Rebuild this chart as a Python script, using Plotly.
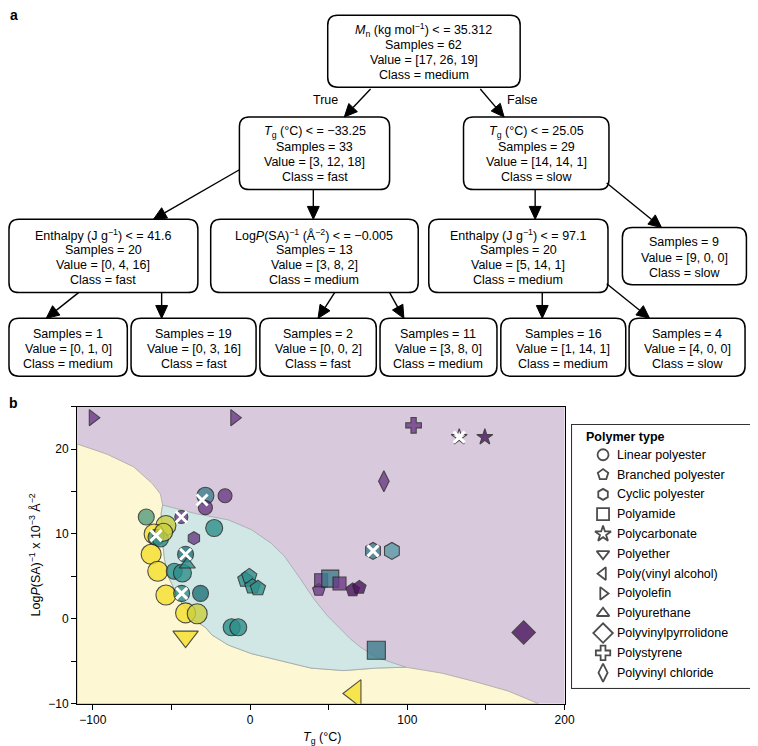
import math
import plotly.graph_objects as go

W, H = 758, 746
FONT = "Liberation Sans, Arial, Helvetica, sans-serif"

# ---------------- Tree data ----------------
node_rule = [
    "<i>M</i><sub>n</sub> (kg mol<sup>−1</sup>) < = 35.312",
    "<i>T</i><sub>g</sub> (°C) < = −33.25",
    "<i>T</i><sub>g</sub> (°C) < = 25.05",
    "Enthalpy (J g<sup>−1</sup>) < = 41.6",
    "Log<i>P</i>(SA)<sup>−1</sup> (Å<sup>−2</sup>) < = −0.005",
    "Enthalpy (J g<sup>−1</sup>) < = 97.1",
    None, None, None, None, None, None, None,
]
node_samples = [62, 33, 29, 20, 13, 20, 9, 1, 19, 2, 11, 16, 4]
node_values = [[17, 26, 19], [3, 12, 18], [14, 14, 1], [0, 4, 16], [3, 8, 2],
               [5, 14, 1], [9, 0, 0], [0, 1, 0], [0, 3, 16], [0, 0, 2],
               [3, 8, 0], [1, 14, 1], [4, 0, 0]]
node_class = ["medium", "fast", "slow", "fast", "medium", "medium", "slow",
              "medium", "fast", "fast", "medium", "medium", "slow"]

# ---------------- Scatter data ----------------
polymer_types = ["Linear polyester", "Branched polyester", "Cyclic polyester",
                 "Polyamide", "Polycarbonate", "Polyether", "Poly(vinyl alcohol)",
                 "Polyolefin", "Polyurethane", "Polyvinylpyrrolidone",
                 "Polystyrene", "Polyvinyl chloride"]

lin_tg = [-66, -53.5, -61, -59.8, -57, -55, -62.9, -58.7, -53.5, -48.2, -43, -41,
          -43.5, -31.5, -41, -33.6, -11.7, -7.5, -22.8, -28.4, -28.4, -15.9, -43.7]
lin_sa = [12.0, 11.0, 10.0, 9.6, 9.4, 10.2, 7.6, 5.6, 2.8, 5.6, 5.4, 7.6,
          3.0, 3.0, 0.7, 0.6, -1.0, -1.0, 10.7, 14.5, 13.1, 14.5, 12.0]
lin_cls = ["g", "G", "Y", "T", "T", "G", "Y", "Y", "Y", "T", "T", "K",
           "T", "K", "Y", "G", "T", "T", "T", "B", "P", "P", "P"]
lin_sz = [16, 20, 20, 16, 16, 18, 20, 20, 20, 16, 18, 16,
          16, 16, 20, 20, 17, 17, 17, 17, 14, 14, 13]

bra_tg = [-3, -0.5, 1.5, 5, 43.7, 65.3, 69.5]
bra_sa = [4.6, 5.0, 3.8, 3.6, 3.4, 3.4, 3.7]
bra_cls = ["T", "T", "T", "T", "P", "D", "D"]
bra_sz = [16, 16, 16, 16, 13, 14, 14]

cyc_tg = [-35.7, 78.2, 90.2]
cyc_sa = [9.5, 8.0, 8.0]
cyc_cls = ["P", "B", "L"]
cyc_sz = [13, 17, 17]

pam_tg = [45.2, 51, 56.9, 80.3]
pam_sa = [4.55, 4.74, 4.16, -3.7]
pam_cls = ["P", "B", "P", "B"]
pam_sz = [13, 17, 13, 18]

pc_tg = [133, 149.3]
pc_sa = [21.4, 21.4]
pc_cls = ["W", "D"]
pc_sz = [12, 12]

pe_tg = [-41]
pe_sa = [-2.1]
pe_cls = ["Y"]
pe_sz = [22]

pva_tg = [66.7]
pva_sa = [-8.8]
pva_cls = ["Y"]
pva_sz = [24]

po_tg = [-100, -10]
po_sa = [23.7, 23.7]
po_cls = ["P", "P"]
po_sz = [14, 14]

pu_tg = [-39.9]
pu_sa = [6.4]
pu_cls = ["T"]
pu_sz = [14]

pvp_tg = [174]
pvp_sa = [-1.6]
pvp_cls = ["D"]
pvp_sz = [18]

ps_tg = [104]
ps_sa = [22.8]
ps_cls = ["P"]
ps_sz = [13]

pvc_tg = [85.1]
pvc_sa = [16.2]
pvc_cls = ["P"]
pvc_sz = [15]

# flagged samples (white crosses)
flag_tg = [-59.8, -41, -43.5, -43.7, -30.5, 78.2, 133]
flag_sa = [9.8, 7.6, 3.0, 12.0, 14.0, 8.0, 21.4]

# decision-region boundaries
up_bound_tg = [-110, -91, -74, -62, -57, -55.6]
up_bound_sa = [20.6, 19.4, 17.9, 15.9, 14.7, 13.4]
tp_bound_tg = [-55.6, -34.7, -13.7, 0.9, 13.4, 21.8, 32.2, 40.6, 49, 63.6, 70, 80, 91, 99]
tp_bound_sa = [13.4, 12.4, 11.65, 10.5, 8.9, 7.4, 4.66, 2.33, 0.4, -2.33, -3.3, -4.5, -5.2, -5.7]
ty_bound_tg = [-55.6, -56.5, -56, -54.4, -51.3, -45, -36, -28.4, -24.2, -13.7, 0.9, 21.8, 38.7, 59.6, 80, 99]
ty_bound_sa = [13.4, 12.4, 9.7, 7.0, 4.7, 2.3, -0.1, -1.0, -1.9, -3.1, -4.1, -5.05, -5.8, -6.1, -5.8, -5.7]
lo_bound_tg = [99, 122, 143, 164, 183.5]
lo_bound_sa = [-5.7, -6.4, -7.4, -8.5, -10]

# ---------------- Styles ----------------
COLORS = {"P": "#6a3a86", "D": "#4a145e", "T": "#2e8f8b", "K": "#1f7479",
          "Y": "#f6e02c", "G": "#cbd03e", "g": "#529c7c", "B": "#3f7f8d",
          "L": "#5b9ba8", "W": "#f4f1f4"}
SYMBOLS = ["circle", "pentagon", "hexagon", "square", "star", "triangle-down",
           "triangle-left", "triangle-right", "triangle-up", "diamond", "cross",
           "diamond-tall"]
LEG_SIZES = [11, 11, 11, 12, 12, 11, 11, 11, 11, 15, 12, 13]
series = [(lin_tg, lin_sa, lin_cls, lin_sz), (bra_tg, bra_sa, bra_cls, bra_sz),
          (cyc_tg, cyc_sa, cyc_cls, cyc_sz), (pam_tg, pam_sa, pam_cls, pam_sz),
          (pc_tg, pc_sa, pc_cls, pc_sz), (pe_tg, pe_sa, pe_cls, pe_sz),
          (pva_tg, pva_sa, pva_cls, pva_sz), (po_tg, po_sa, po_cls, po_sz),
          (pu_tg, pu_sa, pu_cls, pu_sz), (pvp_tg, pvp_sa, pvp_cls, pvp_sz),
          (ps_tg, ps_sa, ps_cls, ps_sz), (pvc_tg, pvc_sa, pvc_cls, pvc_sz)]

BG_SLOW = "#d9c9dd"
BG_MED = "#d0e7e6"
BG_FAST = "#fdf8d3"


def X(px):
    return px / W


def Y(py):
    return 1 - py / H


fig = go.Figure()

# ---------------- decision regions ----------------
yel_x = [-110] + up_bound_tg + ty_bound_tg[1:] + lo_bound_tg[1:] + [-110]
yel_y = [-10] + up_bound_sa + ty_bound_sa[1:] + lo_bound_sa[1:] + [-10]
fig.add_trace(go.Scatter(x=yel_x, y=yel_y, mode="lines", fill="toself",
                         fillcolor=BG_FAST, line=dict(color="#a8a8a0", width=0.8),
                         hoverinfo="skip", showlegend=False))
teal_x = tp_bound_tg + ty_bound_tg[::-1]
teal_y = tp_bound_sa + ty_bound_sa[::-1]
fig.add_trace(go.Scatter(x=teal_x, y=teal_y, mode="lines", fill="toself",
                         fillcolor=BG_MED, line=dict(color="#a0a8a8", width=0.8),
                         hoverinfo="skip", showlegend=False))

# ---------------- points ----------------
for name, sym, (xs, ys, cl, sz) in zip(polymer_types, SYMBOLS, series):
    fig.add_trace(go.Scatter(
        x=xs, y=ys, mode="markers", name=name, showlegend=False,
        marker=dict(symbol=sym, size=sz, color=[COLORS[c] for c in cl],
                    opacity=0.8, line=dict(color="#222222", width=1.1))))

fig.add_trace(go.Scatter(x=flag_tg, y=flag_sa, mode="markers", showlegend=False,
                         marker=dict(symbol="x-thin", size=11, color="white",
                                     line=dict(color="white", width=3))))

# ---------------- manual legend ----------------
leg_rows = list(range(len(polymer_types)))
fig.add_trace(go.Scatter(
    x=[31] * len(polymer_types), y=leg_rows, xaxis="x2", yaxis="y2",
    mode="markers", showlegend=False, hoverinfo="skip",
    marker=dict(symbol=[s + "-open" for s in SYMBOLS], size=LEG_SIZES,
                color="black", line=dict(color="black", width=1.8))))

annotations = []
for i, name in enumerate(polymer_types):
    annotations.append(dict(x=43, y=i, xref="x2", yref="y2", text=name,
                            showarrow=False, xanchor="left", yanchor="middle",
                            font=dict(size=12.5, color="black", family=FONT)))
annotations.append(dict(x=12, y=-0.9, xref="x2", yref="y2", text="<b>Polymer type</b>",
                        showarrow=False, xanchor="left", yanchor="middle",
                        font=dict(size=12.5, color="black", family=FONT)))

# ---------------- tree drawing ----------------
boxes = [
    (324, 519, 7.3, 80),
    (234.5, 386.7, 110, 183.3), (461.6, 609, 110, 183.3),
    (1, 192.4, 213.3, 287.3), (205.4, 415.7, 213.3, 287.3),
    (426.4, 608, 213.3, 287.3), (622.6, 748.3, 221.7, 279.3),
    (1, 120.9, 313.3, 371.7), (124.7, 251.4, 313.3, 371.7),
    (255.2, 373.2, 313.3, 371.7), (377, 495.5, 313.3, 371.7),
    (499.4, 626, 313.3, 371.7), (629.4, 746.9, 313.3, 371.7),
]
arrows = [((367.4, 81.7), (340.8, 110)), ((478.6, 81.7), (502.7, 110)),
          ((234.5, 163.3), (147.4, 213.3)), ((309.4, 183.3), (309.4, 213.3)),
          ((534.2, 183.3), (534.2, 213.3)), ((606.7, 176.7), (662.3, 221.7)),
          ((71.5, 287.3), (38.7, 313.3)), ((155.7, 287.3), (155.7, 313.3)),
          ((331, 287.3), (314.2, 313.3)), ((386.7, 287.3), (401.2, 313.3)),
          ((541.4, 287.3), (541.4, 313.3)), ((606.7, 278.3), (650.2, 313.3))]


def rrect(x0, x1, y0, y1, r=10):
    return (f"M {X(x0 + r)},{Y(y0)} L {X(x1 - r)},{Y(y0)} "
            f"Q {X(x1)},{Y(y0)} {X(x1)},{Y(y0 + r)} L {X(x1)},{Y(y1 - r)} "
            f"Q {X(x1)},{Y(y1)} {X(x1 - r)},{Y(y1)} L {X(x0 + r)},{Y(y1)} "
            f"Q {X(x0)},{Y(y1)} {X(x0)},{Y(y1 - r)} L {X(x0)},{Y(y0 + r)} "
            f"Q {X(x0)},{Y(y0)} {X(x0 + r)},{Y(y0)} Z")


shapes = [dict(type="rect", xref="x2 domain", yref="y2 domain", x0=0, x1=1, y0=0, y1=1,
               fillcolor="white", line=dict(width=0), layer="below")]
for i, (x0, x1, y0, y1) in enumerate(boxes):
    shapes.append(dict(type="path", path=rrect(x0, x1, y0, y1), xref="paper", yref="paper",
                       line=dict(color="black", width=1.5), fillcolor="white", layer="above"))
    lines = []
    if node_rule[i]:
        lines.append(node_rule[i])
    lines.append(f"Samples = {node_samples[i]}")
    lines.append("Value = [" + ", ".join(str(v) for v in node_values[i]) + "]")
    lines.append(f"Class = {node_class[i]}")
    cx = (x0 + x1) / 2
    cy = (y0 + y1) / 2 + 1.5
    n = len(lines)
    for k, t in enumerate(lines):
        ly = cy + (k - (n - 1) / 2) * 15.3
        annotations.append(dict(x=X(cx), y=Y(ly), xref="paper", yref="paper", text=t,
                                showarrow=False, xanchor="center", yanchor="middle",
                                font=dict(size=12.5, color="black", family=FONT)))

for (tx, ty), (hx, hy) in arrows:
    dx, dy = hx - tx, hy - ty
    L = math.hypot(dx, dy)
    ux, uy = dx / L, dy / L
    bx, by = hx - 13 * ux, hy - 13 * uy
    qx, qy = -uy, ux
    shapes.append(dict(type="line", x0=X(tx), y0=Y(ty), x1=X(bx), y1=Y(by),
                       xref="paper", yref="paper", line=dict(color="black", width=1.4)))
    p1 = (bx + 6 * qx, by + 6 * qy)
    p2 = (bx - 6 * qx, by - 6 * qy)
    shapes.append(dict(type="path", xref="paper", yref="paper",
                       path=f"M {X(hx)},{Y(hy)} L {X(p1[0])},{Y(p1[1])} L {X(p2[0])},{Y(p2[1])} Z",
                       fillcolor="black", line=dict(color="black", width=1)))

for txt, px, py in [("True", 321.5, 92.7), ("False", 521, 92.7)]:
    annotations.append(dict(x=X(px), y=Y(py), xref="paper", yref="paper", text=txt,
                            showarrow=False, xanchor="center", yanchor="middle",
                            font=dict(size=12.5, color="black", family=FONT)))

for txt, px, py in [("a", 6, 7), ("b", 6, 399)]:
    annotations.append(dict(x=X(px), y=Y(py), xref="paper", yref="paper", text=f"<b>{txt}</b>",
                            showarrow=False, xanchor="center", yanchor="middle",
                            font=dict(size=14, color="black", family=FONT)))

# axis titles
annotations.append(dict(x=X(27), y=Y(552), xref="paper", yref="paper",
                        text="Log<i>P</i>(SA)<sup>−1</sup> x 10<sup>−3</sup> Å<sup>−2</sup>",
                        textangle=-90, showarrow=False, xanchor="center", yanchor="middle",
                        font=dict(size=12.5, color="black", family=FONT)))
annotations.append(dict(x=X(318), y=Y(737), xref="paper", yref="paper",
                        text="<i>T</i><sub>g</sub> (°C)",
                        showarrow=False, xanchor="center", yanchor="middle",
                        font=dict(size=12.5, color="black", family=FONT)))

fig.update_layout(
    width=W, height=H, autosize=False,
    margin=dict(l=0, r=0, t=0, b=0),
    paper_bgcolor="white", plot_bgcolor=BG_SLOW,
    font=dict(family=FONT, size=12, color="black"),
    showlegend=False,
    xaxis=dict(domain=[X(70), X(564)], range=[-110, 200],
               tickvals=[-100, 0, 100, 200],
               ticktext=["−100", "0", "100", "200"],
               ticks="outside", ticklen=5, tickwidth=1, tickcolor="black",
               minor=dict(tick0=-100, dtick=50, ticks="outside", ticklen=5,
                          tickwidth=1, tickcolor="black", showgrid=False),
               showline=True, mirror=True, linecolor="black", linewidth=1.2,
               showgrid=False, zeroline=False, tickfont=dict(size=12)),
    yaxis=dict(domain=[Y(702.3), Y(402.4)], range=[-10, 25],
               tickvals=[-10, 0, 10, 20],
               ticktext=["−10", "0", "10", "20"],
               ticks="outside", ticklen=5, tickwidth=1, tickcolor="black",
               minor=dict(tick0=-10, dtick=5, ticks="outside", ticklen=5,
                          tickwidth=1, tickcolor="black", showgrid=False),
               showline=True, mirror=True, linecolor="black", linewidth=1.2,
               showgrid=False, zeroline=False, tickfont=dict(size=12)),
    xaxis2=dict(domain=[X(572), X(757)], range=[0, 185], anchor="y2",
                showline=True, mirror=True, linecolor="#333333", linewidth=1,
                showgrid=False, zeroline=False, showticklabels=False, ticks=""),
    yaxis2=dict(domain=[Y(686), Y(421)], range=[11.75, -1.5], anchor="x2",
                showline=True, mirror=True, linecolor="#333333", linewidth=1,
                showgrid=False, zeroline=False, showticklabels=False, ticks=""),
    shapes=shapes,
    annotations=annotations,
)

fig.write_html("out.html")
